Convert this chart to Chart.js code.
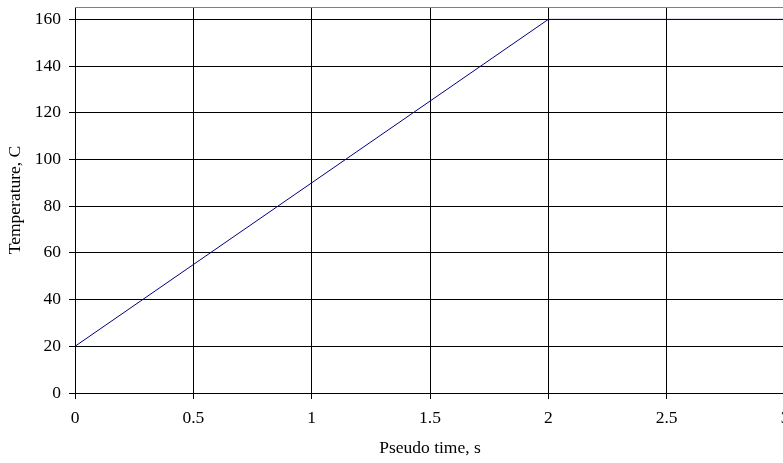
<!DOCTYPE html>
<html>
<head>
<meta charset="utf-8">
<script src="https://cdn.jsdelivr.net/npm/chart.js@4"></script>
<style>
html,body{margin:0;padding:0;background:#fff;overflow:hidden;width:783px;height:463px;}
#wrap{width:800px;height:463px;position:relative;}
</style>
</head>
<body>
<div id="wrap"><canvas id="c" width="800" height="463"></canvas></div>
<script>
const timeValues = [0, 2, 3];
const temperatureValues = [20, 160, 160];
const xTicks = [0, 0.5, 1, 1.5, 2, 2.5, 3];
const yTicks = [0, 20, 40, 60, 80, 100, 120, 140, 160];
const xTitle = 'Pseudo time, s';
const yTitle = 'Temperature, C';

const FONT = 'Liberation Serif, Times New Roman, serif';
const FS = 17.5;

const borderPlugin = {
  id: 'plotBorder',
  afterDraw(chart) {
    const a = chart.chartArea, ctx = chart.ctx;
    ctx.save();
    ctx.strokeStyle = '#808080';
    ctx.lineWidth = 1;
    ctx.beginPath();
    ctx.moveTo(a.left, a.top + 0.5);
    ctx.lineTo(a.right, a.top + 0.5);
    ctx.stroke();
    ctx.restore();
  }
};

new Chart(document.getElementById('c'), {
  type: 'line',
  data: {
    datasets: [{
      data: timeValues.map((t, i) => ({x: t, y: temperatureValues[i]})),
      borderColor: '#000080',
      borderWidth: 1,
      pointRadius: 0,
      fill: false,
      tension: 0
    }]
  },
  options: {
    responsive: false,
    animation: false,
    devicePixelRatio: 1,
    layout: {padding: {left: 0, right: 15, top: 7, bottom: 0}},
    plugins: {legend: {display: false}, tooltip: {enabled: false}},
    scales: {
      x: {
        type: 'linear',
        min: 0, max: 3,
        afterBuildTicks: s => { s.ticks = xTicks.map(v => ({value: v})); },
        afterFit: s => { s.height = 70; s.paddingLeft = 0; s.paddingRight = 0; },
        grid: {color: '#000', lineWidth: 1, tickLength: 6, drawTicks: true},
        border: {color: '#000', width: 1},
        ticks: {color: '#000', font: {family: FONT, size: FS}, padding: 9, maxRotation: 0,
                callback: v => String(v)},
        title: {display: true, text: xTitle, color: '#000', font: {family: FONT, size: FS}, padding: {top: 9, bottom: 4}}
      },
      y: {
        type: 'linear',
        min: 0, max: 165.3,
        afterBuildTicks: s => { s.ticks = yTicks.map(v => ({value: v})); },
        afterFit: s => { s.width = 75; s.paddingTop = 0; s.paddingBottom = 0; },
        grid: {color: '#000', lineWidth: 1, tickLength: 6},
        border: {color: '#000', width: 1},
        ticks: {color: '#000', font: {family: FONT, size: FS}, padding: 8,
                callback: v => String(v)},
        title: {display: true, text: yTitle, color: '#000', font: {family: FONT, size: FS}, padding: {top: 5, bottom: 4}}
      }
    }
  },
  plugins: [borderPlugin]
});
</script>
</body>
</html>
